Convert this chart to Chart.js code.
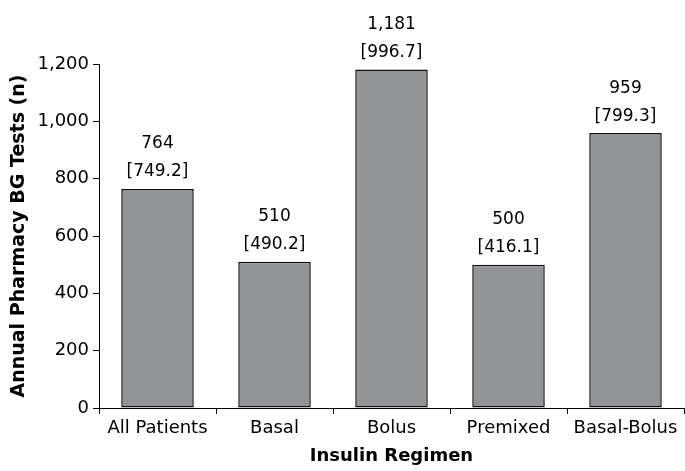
<!DOCTYPE html>
<html>
<head>
<meta charset="utf-8">
<script src="https://cdn.jsdelivr.net/npm/chart.js@4/dist/chart.umd.min.js"></script>
<style>
  html, body { margin: 0; padding: 0; background: #fff; }
  #wrap { width: 685px; height: 471px; }
</style>
</head>
<body>
<div id="wrap"><canvas id="chart"></canvas></div>
<script>
// data
const regimens = ['All Patients', 'Basal', 'Bolus', 'Premixed', 'Basal-Bolus'];
const testCounts = [764, 510, 1181, 500, 959];
const testMeans = [749.2, 490.2, 996.7, 416.1, 799.3];
const yTicks = [0, 200, 400, 600, 800, 1000, 1200];

const FONT = 'DejaVu Sans';

// two-line labels above each bar: count, then [mean]
const barLabels = {
  id: 'barLabels',
  afterDatasetsDraw(chart) {
    const ctx = chart.ctx;
    const meta = chart.getDatasetMeta(0);
    ctx.save();
    ctx.fillStyle = '#000';
    ctx.font = '17px "' + FONT + '"';
    ctx.textAlign = 'center';
    ctx.textBaseline = 'middle';
    meta.data.forEach((bar, i) => {
      ctx.fillText(testCounts[i].toLocaleString('en-US'), bar.x, bar.y - 45);
      ctx.fillText('[' + testMeans[i].toFixed(1) + ']', bar.x, bar.y - 17);
    });
    ctx.restore();
  }
};

new Chart(document.getElementById('chart'), {
  type: 'bar',
  data: {
    labels: regimens,
    datasets: [{
      data: testCounts,
      backgroundColor: '#939497',
      borderColor: '#111',
      borderWidth: 1.5,
      borderSkipped: false,
      barPercentage: 0.62,
      categoryPercentage: 1
    }]
  },
  options: {
    responsive: true,
    maintainAspectRatio: false,
    animation: false,
    layout: { padding: { top: 64, right: 1, left: 0, bottom: 0 } },
    plugins: {
      legend: { display: false },
      tooltip: { enabled: false }
    },
    scales: {
      x: {
        grid: { drawOnChartArea: false, color: '#000', tickLength: 6, offset: true },
        border: { color: '#000', width: 1 },
        ticks: { color: '#000', font: { family: FONT, size: 18 }, padding: 4, maxRotation: 0, autoSkip: false },
        title: {
          display: true, text: 'Insulin Regimen', color: '#000',
          font: { family: FONT, size: 18, weight: 'bold' }, padding: { top: 0, bottom: 4 }
        },
        afterFit: s => { s.height = 63; }
      },
      y: {
        min: 0,
        max: 1200,
        afterBuildTicks: s => { s.ticks = yTicks.map(v => ({ value: v })); },
        grid: { drawOnChartArea: false, color: '#000', tickLength: 6 },
        border: { color: '#000', width: 1 },
        ticks: {
          color: '#000', font: { family: FONT, size: 18 }, padding: 4,
          callback: v => v.toLocaleString('en-US')
        },
        title: {
          display: true, text: 'Annual Pharmacy BG Tests (n)', color: '#000',
          font: { family: FONT, size: 19, weight: 'bold' }, padding: { top: 8, bottom: 0 }
        },
        afterFit: s => { s.width = 99; }
      }
    }
  },
  plugins: [barLabels]
});
</script>
</body>
</html>
